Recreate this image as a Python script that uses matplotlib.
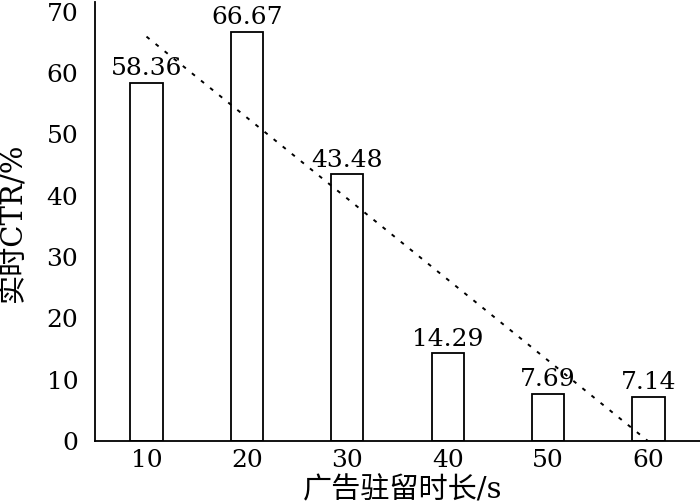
import numpy as np
import matplotlib
matplotlib.use("Agg")
import matplotlib.pyplot as plt

plt.rcParams['font.family'] = ['DejaVu Serif', 'Noto Sans CJK SC']

# data
durations = ["10", "20", "30", "40", "50", "60"]
ctr = [58.36, 66.67, 43.48, 14.29, 7.69, 7.14]
ctr_labels = ["58.36", "66.67", "43.48", "14.29", "7.69", "7.14"]
yticks = [0, 10, 20, 30, 40, 50, 60, 70]

fig = plt.figure(figsize=(7, 5.04), dpi=100)
ax = fig.add_axes([95/700, 63/504, 605/700, 439/504])

x = np.arange(len(durations))
bars = ax.bar(x, ctr, width=0.32, color="white", edgecolor="black", linewidth=1.3)
ax.bar_label(bars, labels=ctr_labels, padding=2, fontsize=18)

# linear trend line (excel style)
k, b = np.polyfit(x + 1, ctr, 1)
ax.plot(x, k*(x + 1) + b, color="black", linestyle=(0, (2, 4)), linewidth=1.4)

ax.set_xlim(-0.513, len(durations) - 1 + 0.513)
ax.set_ylim(0, 71.6)
ax.set_xticks(x)
ax.set_xticklabels(durations)
ax.set_yticks(yticks)
ax.tick_params(length=0, labelsize=18)
ax.tick_params(axis="y", pad=12)
ax.tick_params(axis="x", pad=6)

for s in ["top", "right"]:
    ax.spines[s].set_visible(False)
for s in ["left", "bottom"]:
    ax.spines[s].set_linewidth(1.3)

ax.set_xlabel("广告驻留时长/s", fontsize=21, va="center")
ax.xaxis.set_label_coords(0.509, -0.112)
ax.set_ylabel("实时CTR/%", fontsize=21, va="center")
ax.yaxis.set_label_coords(-0.134, 0.499)

fig.savefig("out.png", dpi=100)
